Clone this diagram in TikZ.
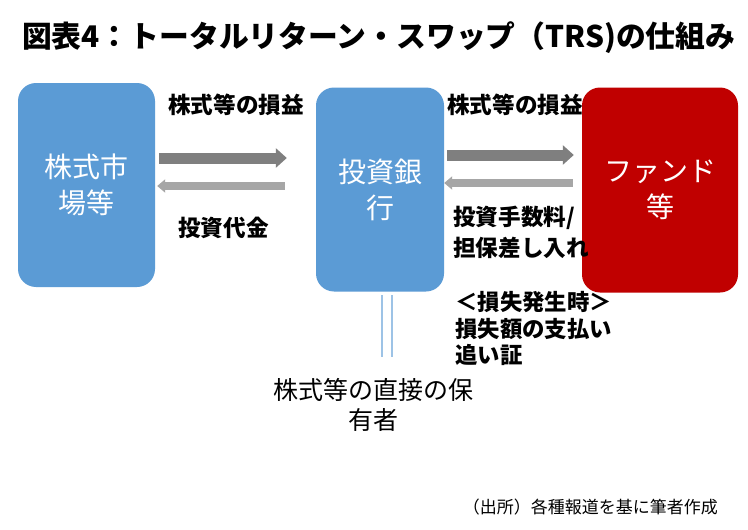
\documentclass[tikz,border=0pt]{standalone}
\usepackage{fontspec}
\setmainfont{Noto Sans CJK JP}
\usetikzlibrary{arrows.meta}
\definecolor{boxblue}{HTML}{5B9BD5}
\definecolor{boxred}{HTML}{C00000}
\definecolor{arrdark}{HTML}{7F7F7F}
\definecolor{arrlight}{HTML}{A6A6A6}
\definecolor{lineblue}{HTML}{9DC3E6}
\begin{document}
\begin{tikzpicture}[x=1pt,y=-1pt,
  box/.style={rounded corners=18pt, minimum height=204pt, inner sep=0pt, text=white, align=center, font=\fontsize{28}{36}\selectfont},
  lbl/.style={anchor=west, inner sep=0pt, align=left, font=\bfseries\fontsize{22.6}{31.5}\selectfont},
  darkarr/.style={draw=arrdark, line width=11pt, -{Triangle[length=11pt,width=19pt]}},
  lightarr/.style={draw=arrlight, line width=8pt, -{Triangle[length=8pt,width=13pt]}},
  dline/.style={draw=lineblue, line width=1.4pt, double=white, double distance=8.5pt},
]
\useasboundingbox[fill=white] (0,0) rectangle (748,530);
% title
\node[anchor=west, inner sep=0pt, font=\bfseries\fontsize{29.8}{34}\selectfont] (title) at (22,38) {図表4：トータルリターン・スワップ（TRS)の仕組み};
% boxes
\node[box, fill=boxblue, minimum width=137pt] (L) at (86.5,185) {株式市\\場等};
\node[box, fill=boxblue, minimum width=128pt] (M) at (380,189.5) {投資銀\\行};
\node[box, fill=boxred, minimum width=156pt, minimum height=205pt] (R) at (660,190) {ファンド\\等};
% arrows
\draw[darkarr, shorten <=4pt, shorten >=29pt] ([yshift=27pt]L.east) -- ([yshift=31.5pt]M.west);
\draw[lightarr, shorten <=31pt, shorten >=2pt] ([yshift=3.5pt]M.west) -- ([yshift=-1pt]L.east);
\draw[darkarr, shorten <=3pt, shorten >=8pt] ([yshift=34.5pt]M.east) -- ([yshift=35pt]R.west);
\draw[lightarr, shorten <=9pt, shorten >=0pt] ([yshift=7pt]R.west) -- ([yshift=6.5pt]M.east);
% labels
\node[lbl] (l1) at (168,105) {株式等の損益};
\node[lbl] (l2) at (178,228) {投資代金};
\node[lbl] (l3) at (447,105) {株式等の損益};
\node[lbl] (l4) at (453,232.5) {投資手数料/\\担保差し入れ};
\node[lbl, font=\bfseries\fontsize{22.4}{26.5}\selectfont] (l5) at (455,328.5) {＜損失発生時＞\\損失額の支払い\\追い証};
% direct holding
\coordinate (d1) at (387,295);
\coordinate (d2) at (387,357);
\draw[dline] (d1) -- (d2);
\node[inner sep=0pt, align=center, font=\fontsize{25}{30}\selectfont] (hold) at (373,405) {株式等の直接の保\\有者};
% source
\node[anchor=east, inner sep=0pt, font=\fontsize{17}{20}\selectfont] (src) at (718,507) {（出所）各種報道を基に筆者作成};
\end{tikzpicture}
\end{document}
